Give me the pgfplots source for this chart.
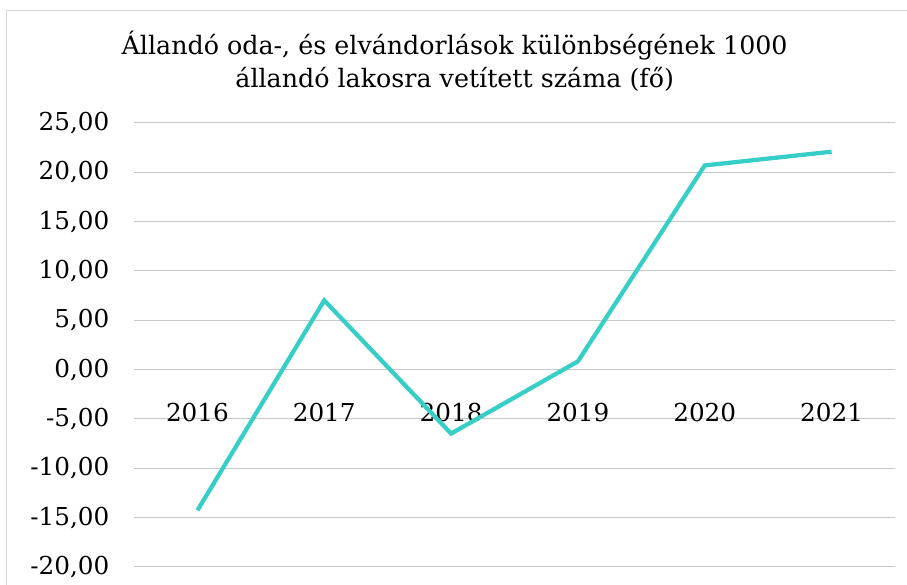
\documentclass[border=0pt]{standalone}
\usepackage{fontspec}
\setmainfont{DejaVu Serif}
\usepackage{pgfplots}
\pgfplotsset{compat=1.18}
\definecolor{turq}{RGB}{56,206,200}
\definecolor{gridgray}{RGB}{200,200,200}
\definecolor{framegray}{RGB}{217,217,217}
\begin{document}
\begin{tikzpicture}
\path[use as bounding box] (0,0) rectangle (680.25pt,438.75pt);
\draw[framegray, line width=0.75pt] (4.5pt,0) -- (4.5pt,430.5pt) -- (680.25pt,430.5pt);
\node[align=center, font=\fontsize{19}{24.75}\selectfont] at (341pt,392.5pt)
  {Állandó oda-, és elvándorlások különbségének 1000\\állandó lakosra vetített száma (fő)};
\begin{axis}[
  at={(100.5pt,13.5pt)}, anchor=south west,
  scale only axis, width=570.75pt, height=333pt,
  xmin=-0.5, xmax=5.5, ymin=-20, ymax=25,
  ytick={-20,-15,-10,-5,0,5,10,15,20,25},
  xtick={0,1,2,3,4,5},
  xticklabels={2016,2017,2018,2019,2020,2021},
  axis line style={draw=none},
  major tick length=0pt,
  ymajorgrids,
  grid style={gridgray, line width=0.75pt},
  tick label style={font=\fontsize{18.5}{20}\selectfont},
  /pgf/number format/fixed,
  /pgf/number format/fixed zerofill,
  /pgf/number format/precision=2,
  /pgf/number format/use comma,
  /pgf/number format/assume math mode=true,
  yticklabel style={anchor=east, xshift=-15pt},
  xticklabel style={anchor=center, yshift=115.5pt},
  clip=false,
]
\addplot[turq, line width=3.2pt, mark=none] coordinates {
  (0,-14.26) (1,7.02) (2,-6.48) (3,0.84) (4,20.7) (5,22.09)
};
\end{axis}
\end{tikzpicture}
\end{document}
